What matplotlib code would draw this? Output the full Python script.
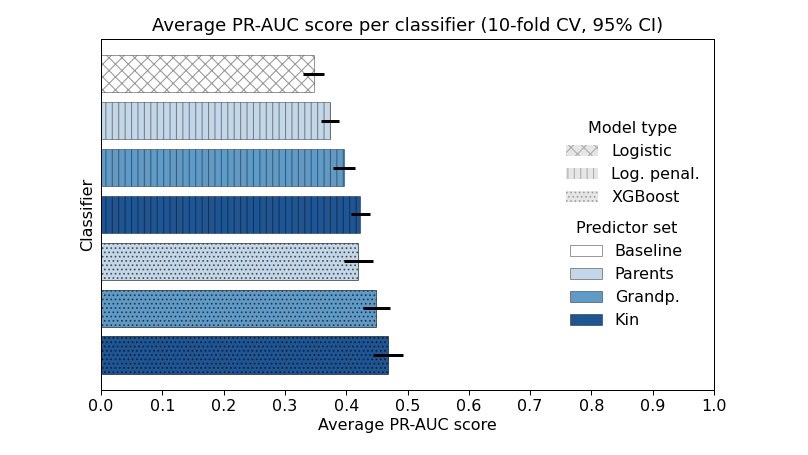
import numpy as np
import matplotlib
matplotlib.use("Agg")
import matplotlib.pyplot as plt
from matplotlib.patches import Patch

# values (top to bottom)
classifiers = ["Logistic / Baseline", "Log. penal. / Parents", "Log. penal. / Grandp.",
               "Log. penal. / Kin", "XGBoost / Parents", "XGBoost / Grandp.", "XGBoost / Kin"]
model_of_bar = ["Logistic", "Log. penal.", "Log. penal.", "Log. penal.", "XGBoost", "XGBoost", "XGBoost"]
predictor_of_bar = ["Baseline", "Parents", "Grandp.", "Kin", "Parents", "Grandp.", "Kin"]
mean_score = [0.347, 0.374, 0.396, 0.423, 0.420, 0.449, 0.468]
ci_half = [0.017, 0.015, 0.018, 0.015, 0.023, 0.022, 0.024]

model_types = ["Logistic", "Log. penal.", "XGBoost"]
model_hatch = {"Logistic": "xx", "Log. penal.": "||", "XGBoost": "..."}
predictor_sets = ["Baseline", "Parents", "Grandp.", "Kin"]
predictor_color = {"Baseline": "#ffffff", "Parents": "#c3d7e9", "Grandp.": "#609bc7", "Kin": "#1f5592"}

DPI = 77
pt = 72 / DPI  # one pixel in points

edge = (0, 0, 0, 0.4)
model_edge = {"Logistic": (0, 0, 0, 0.4), "Log. penal.": (0, 0, 0, 0.4), "XGBoost": (0, 0, 0, 0.55)}

fig = plt.figure(figsize=(808.05 / DPI, 455.05 / DPI), dpi=DPI)
ax = fig.add_axes([101 / 808, 1 - 390 / 455, 613 / 808, 351 / 455])

y_pos = np.arange(len(classifiers))
for i in range(len(classifiers)):
    ax.barh(y_pos[i], mean_score[i], height=0.8,
            color=predictor_color[predictor_of_bar[i]],
            edgecolor=model_edge[model_of_bar[i]], linewidth=1.0 * pt,
            hatch=model_hatch[model_of_bar[i]])
ax.errorbar(mean_score, y_pos, xerr=ci_half, fmt="none", ecolor="black",
            elinewidth=3 * pt, capsize=0)

ax.invert_yaxis()
ax.set_yticks([])
ax.set_xlim(0, 1.0)
ax.set_xticks(np.arange(0, 1.01, 0.1))
ax.tick_params(axis="x", labelsize=16 * pt, length=5 * pt, width=1 * pt, pad=3.5 * pt)
for s in ax.spines.values():
    s.set_linewidth(1.0 * pt)

ax.set_title("Average PR-AUC score per classifier (10-fold CV, 95% CI)", fontsize=18 * pt, pad=8 * pt)
ax.set_xlabel("Average PR-AUC score", fontsize=16 * pt, labelpad=4 * pt)
ax.set_ylabel("Classifier", fontsize=16 * pt, labelpad=6 * pt)

# two legends: hatch = model type, colour = predictor set
model_handles = [Patch(facecolor="#e6e6e6", edgecolor=(0, 0, 0, 0.25), linewidth=0,
                       hatch=model_hatch[m], label=m) for m in model_types]
pred_handles = [Patch(facecolor=predictor_color[p], edgecolor=edge, linewidth=1.0 * pt, label=p)
                for p in predictor_sets]

leg1 = ax.legend(handles=model_handles, title="Model type", loc="upper center",
                 bbox_to_anchor=(0.868, 0.808), frameon=False, fontsize=16 * pt, title_fontsize=16 * pt)
ax.add_artist(leg1)
ax.legend(handles=pred_handles, title="Predictor set", loc="upper center",
          bbox_to_anchor=(0.857, 0.522), frameon=False, fontsize=16 * pt, title_fontsize=16 * pt)

fig.savefig("out.png", dpi=DPI)
